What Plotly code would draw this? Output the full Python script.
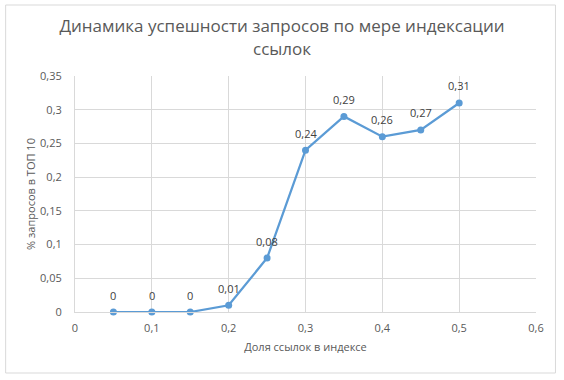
import plotly.graph_objects as go

share = [0.05, 0.1, 0.15, 0.2, 0.25, 0.3, 0.35, 0.4, 0.45, 0.5]
success = [0, 0, 0, 0.01, 0.08, 0.24, 0.29, 0.26, 0.27, 0.31]
labels = [("%g" % v).replace(".", ",") for v in success]

title_line1 = "Динамика успешности запросов по мере индексации"
title_line2 = "ссылок"
x_title = "Доля ссылок в индексе"
y_title = "% запросов в ТОП 10"

FONT = "Open Sans"
GRAY = "#595959"
GRID = "#d9d9d9"

fig = go.Figure()
fig.add_trace(go.Scatter(
    x=share, y=success, mode="lines+markers",
    line=dict(color="#5b9bd5", width=2.25),
    marker=dict(color="#5b9bd5", size=7),
    cliponaxis=False, showlegend=False, hoverinfo="skip",
))

annotations = [dict(text=title_line2, xref="paper", yref="paper",
                    x=(282 - 74.5) / 462, y=(312 - 48) / 236,
                    xanchor="center", yanchor="middle", showarrow=False,
                    font=dict(family=FONT, size=17, color=GRAY))]
for xv, yv, lab in zip(share, success, labels):
    annotations.append(dict(x=xv, y=yv, text=lab, showarrow=False, xref="x", yref="y",
                            xanchor="center", yanchor="middle", yshift=17,
                            font=dict(family=FONT, size=11, color="#404040")))

fig.update_layout(
    width=564, height=380,
    margin=dict(l=74.5, r=27.5, t=76, b=68),
    paper_bgcolor="white", plot_bgcolor="white",
    separators=", ",
    font=dict(family=FONT, color=GRAY, size=11),
    title=dict(text=title_line1, x=0.5, xanchor="center",
               xref="container", yref="container", y=1 - 26 / 380, yanchor="middle",
               font=dict(family=FONT, size=17, color=GRAY)),
    annotations=annotations,
    xaxis=dict(range=[0, 0.6], dtick=0.1, tick0=0, showgrid=True, gridcolor=GRID,
               showline=True, linecolor=GRID, linewidth=1, zeroline=False,
               ticks="", ticklabelstandoff=6,
               tickfont=dict(family=FONT, size=11, color=GRAY),
               title=dict(text=x_title, standoff=9, font=dict(family=FONT, size=11, color=GRAY))),
    yaxis=dict(range=[0, 0.35], dtick=0.05, tick0=0, showgrid=True, gridcolor=GRID,
               showline=True, linecolor=GRID, linewidth=1, zeroline=False,
               ticks="", ticklabelstandoff=10,
               tickfont=dict(family=FONT, size=11, color=GRAY),
               title=dict(text=y_title, standoff=2, font=dict(family=FONT, size=11, color=GRAY))),
    shapes=[dict(type="rect", xref="paper", yref="paper",
                 x0=(5 - 74.5) / 462, x1=(556 - 74.5) / 462,
                 y0=(312 - 373) / 236, y1=(312 - 5) / 236,
                 line=dict(color=GRID, width=1), fillcolor="rgba(0,0,0,0)", layer="above")],
)

fig.write_html("out.html", config={"displayModeBar": False},
               post_script="document.body.style.margin='0';document.body.style.padding='0';")
